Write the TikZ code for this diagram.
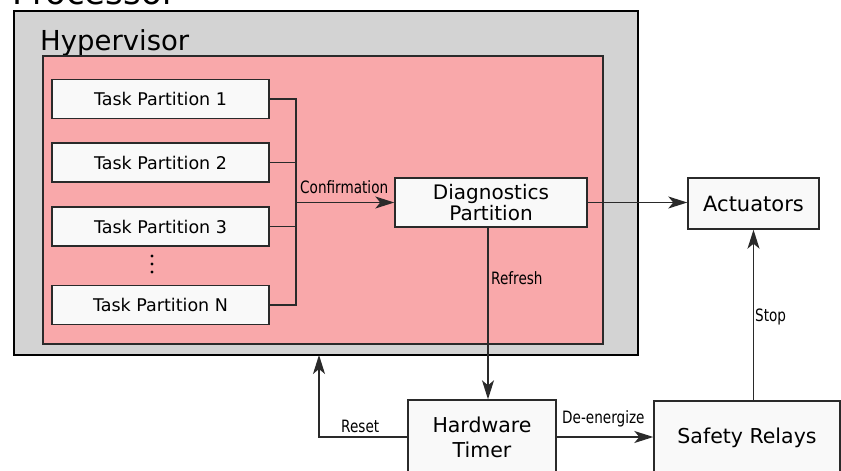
\documentclass[tikz,border=0pt]{standalone}
\usepackage{fontspec}
\setmainfont{DejaVu Sans}
\newfontfamily\lblfont[FakeStretch=0.8]{DejaVu Sans}
\usetikzlibrary{arrows.meta}
\definecolor{procgray}{HTML}{D3D3D3}
\definecolor{hyppink}{HTML}{F9A8AA}
\definecolor{boxwhite}{HTML}{F9F9F9}
\definecolor{edgegray}{HTML}{2A2A2A}
\begin{document}
\begin{tikzpicture}[x=1pt,y=-1pt,
  container/.style={anchor=north west, inner sep=0pt, outer sep=0pt},
  box/.style={draw=edgegray, fill=boxwhite, line width=1.4pt, inner sep=0pt, align=center},
  taskbox/.style={box, minimum width=217pt, minimum height=39pt, font=\fontsize{17.5}{18}\selectfont},
  mainbox/.style={box, font=\fontsize{20.5}{25}\selectfont},
  conn/.style={draw=edgegray, line width=1.3pt},
  arr/.style={conn, -{Stealth[length=19pt,width=12pt,inset=5pt]}},
  lbl/.style={anchor=base west, inner sep=0pt, font=\lblfont\fontsize{17}{18}\selectfont},
  title/.style={anchor=base west, inner sep=0pt},
]
\useasboundingbox (0,0) rectangle (841,471);
\fill[white] (0,0) rectangle (841,471);

% containers
\node[container, draw=black, line width=2pt, fill=procgray,
      minimum width=624pt, minimum height=344pt] (proc) at (14,11) {};
\node[title, font=\fontsize{34}{36}\selectfont] (proclbl) at (12,5) {Processor};
\node[title, font=\fontsize{27.5}{30}\selectfont] (hyplbl) at (40,50) {Hypervisor};
\node[container, draw=edgegray, line width=1.6pt, fill=hyppink,
      minimum width=560pt, minimum height=288pt] (hyp) at (43,56) {};

% task partitions
\node[taskbox] (tp1) at (160.5,99) {Task Partition 1};
\node[taskbox] (tp2) at (160.5,162.5) {Task Partition 2};
\node[taskbox] (tp3) at (160.5,226.5) {Task Partition 3};
\node[taskbox] (tpn) at (160.5,305) {Task Partition N};
\fill[black] (152,256) circle (1.6pt) (152,264) circle (1.6pt) (152,272) circle (1.6pt);

% main boxes
\node[mainbox, minimum width=192pt, minimum height=49pt,
      font=\fontsize{20}{19}\selectfont] (diag) at (491,202.5) {Diagnostics\\Partition};
\node[mainbox, minimum width=131pt, minimum height=51pt, font=\fontsize{21}{25}\selectfont] (act) at (753.5,203.5) {Actuators};
\node[mainbox, minimum width=148pt, minimum height=74pt] (ht) at (482,437) {Hardware\\Timer};
\node[mainbox, minimum width=186pt, minimum height=74pt] (sr) at (747,438) {Safety Relays};

% bus
\coordinate (bus) at (296,0);
\draw[conn] (tp1.east) -- (tp1.east -| bus) -- (tpn.east -| bus) -- (tpn.east);
\draw[conn] (tp2.east) -- (tp2.east -| bus);
\draw[conn] (tp3.east) -- (tp3.east -| bus);

% connectors
\draw[arr] (diag.west -| bus) -- (diag.west);
\node[lbl] (lconf) at (300,193) {Confirmation};

\draw[arr] (diag.east) -- (diag.east -| act.west);

\coordinate (rx) at (488,0);
\draw[arr] (diag.south -| rx) -- (ht.north -| rx);
\node[lbl] (lref) at (491,284) {Refresh};

\coordinate (rst) at (319,437);
\draw[arr] (ht.west) -- (rst) -- (rst |- proc.south);
\node[lbl] (lrst) at (341,432) {Reset};

\draw[arr] (ht.east) -- (ht.east -| sr.west);
\node[lbl] (lden) at (562,423) {De-energize};

\draw[arr] (act.south |- sr.north) -- (act.south);
\node[lbl] (lstop) at (755,321) {Stop};
\end{tikzpicture}
\end{document}
